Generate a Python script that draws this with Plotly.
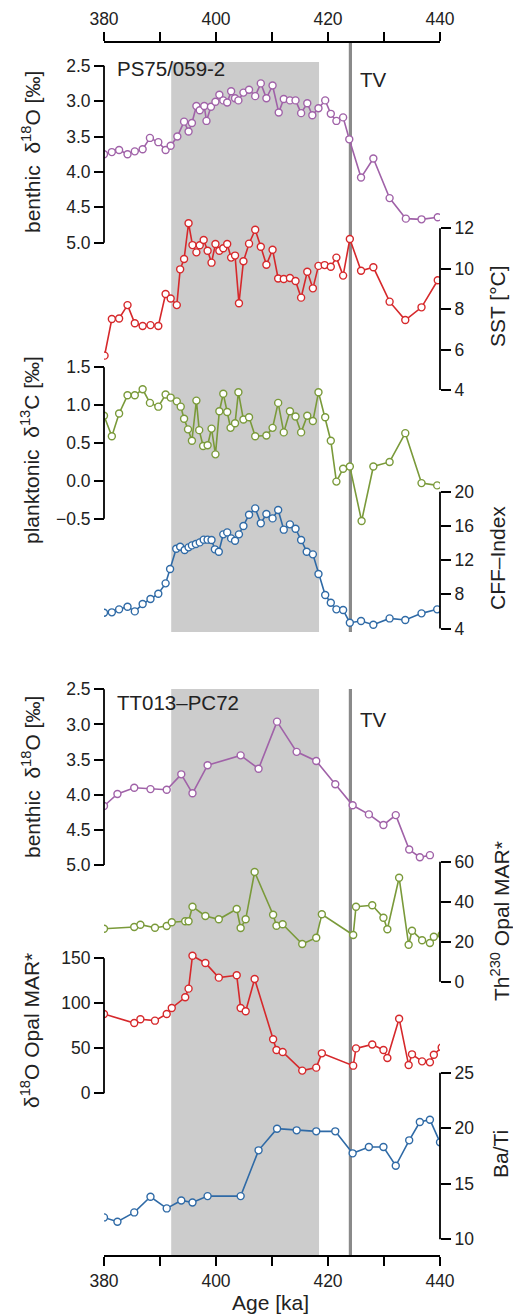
import plotly.graph_objects as go

W, H = 513, 1315
L, R = 104, 440  # pixel x of the plot area edges (380 ka and 440 ka)

# ---------------- PS75/059-2 ----------------
ps_d18o_age = [380.0, 381.4, 382.7, 384.2, 385.5, 386.9, 388.2, 389.7, 391.0, 391.9,
               393.1, 394.3, 395.1, 395.7, 396.5, 397.1, 397.9, 398.3, 399.1, 399.9,
               400.6, 401.3, 402.0, 402.7, 403.4, 404.0, 404.9, 405.9, 407.0, 408.0,
               409.0, 410.1, 411.2, 412.1, 413.2, 414.2, 415.2, 416.3, 417.2, 418.3,
               419.5, 420.5, 421.5, 422.7, 423.8, 425.9, 428.1, 431.0, 433.9, 436.7, 439.6]
ps_d18o = [3.75, 3.72, 3.69, 3.75, 3.71, 3.68, 3.52, 3.58, 3.69, 3.63,
           3.50, 3.29, 3.43, 3.31, 3.07, 3.13, 3.07, 3.28, 3.08, 3.01,
           2.91, 2.99, 3.02, 2.86, 2.96, 2.99, 2.88, 2.84, 2.93, 2.75,
           2.96, 2.78, 3.16, 2.97, 2.99, 2.99, 3.17, 3.03, 3.20, 3.10,
           2.99, 3.18, 3.28, 3.23, 3.54, 4.08, 3.81, 4.37, 4.66, 4.67, 4.64]

sst_age = [380.1, 381.4, 382.7, 384.2, 385.5, 386.9, 388.3, 389.7, 391.0, 391.9,
           393.0, 393.6, 394.3, 395.1, 395.8, 396.5, 397.1, 397.8, 398.5, 399.2,
           399.9, 400.6, 401.3, 402.0, 402.7, 403.4, 404.1, 404.9, 405.9, 407.0,
           408.0, 409.0, 410.1, 411.1, 412.1, 413.2, 414.2, 415.2, 416.3, 417.3,
           418.3, 419.4, 420.5, 421.5, 422.7, 423.9, 425.9, 428.1, 431.0, 433.8,
           436.7, 439.6]
sst = [5.7, 7.51, 7.54, 8.20, 7.30, 7.17, 7.21, 7.17, 8.75, 8.53,
       8.20, 9.97, 10.48, 12.25, 11.17, 10.81, 11.16, 11.42, 10.89, 10.30,
       11.22, 10.89, 11.01, 11.22, 10.55, 10.65, 8.29, 10.37, 11.24, 11.93,
       11.09, 10.20, 10.94, 9.52, 9.49, 9.54, 9.39, 8.57, 9.85, 9.03,
       10.14, 10.18, 10.10, 10.55, 9.66, 11.47, 9.90, 10.07, 8.37, 7.46,
       8.09, 9.43]

d13c_age = [380.0, 381.4, 382.7, 384.2, 385.5, 386.9, 388.2, 389.7, 391.0, 391.9,
            393.0, 393.7, 394.3, 395.0, 395.7, 396.5, 397.0, 397.7, 398.5, 399.2,
            399.9, 400.6, 401.3, 402.0, 402.6, 403.4, 404.0, 404.9, 405.9, 407.0,
            409.0, 410.1, 411.1, 412.1, 413.2, 414.2, 415.2, 416.3, 417.3, 418.3,
            419.5, 420.5, 421.5, 422.7, 423.9, 426.0, 428.1, 431.0, 433.8, 436.7, 439.5]
d13c = [0.86, 0.59, 0.89, 1.13, 1.13, 1.21, 1.03, 0.98, 1.14, 1.10,
        1.05, 0.98, 0.82, 0.68, 0.53, 1.06, 0.67, 0.46, 0.47, 0.69,
        0.35, 0.92, 1.15, 0.91, 0.70, 0.76, 1.17, 0.81, 0.84, 0.59,
        0.60, 0.70, 1.03, 0.64, 0.92, 0.85, 0.64, 0.86, 0.79, 1.17,
        0.84, 0.53, -0.01, 0.16, 0.19, -0.53, 0.19, 0.25, 0.63, -0.03, -0.06]

cff_age = [380.0, 381.4, 382.7, 384.2, 385.5, 386.9, 388.3, 389.7, 391.0, 391.8,
           392.9, 393.6, 394.4, 395.1, 395.7, 396.4, 397.1, 397.8, 398.5, 399.2,
           399.8, 400.5, 401.3, 402.0, 402.7, 403.4, 404.1, 404.9, 405.9, 407.0,
           408.0, 409.0, 410.1, 411.1, 412.1, 413.2, 414.2, 415.2, 416.2, 417.3,
           418.3, 419.5, 420.5, 421.5, 422.7, 423.9, 425.9, 428.1, 431.0, 433.8,
           436.7, 439.5]
cff = [5.85, 5.89, 6.24, 6.55, 6.00, 6.86, 7.45, 8.07, 9.28, 10.96,
       13.33, 13.57, 13.18, 13.49, 13.72, 13.88, 14.07, 14.39, 14.39, 14.35,
       13.26, 12.98, 15.01, 15.24, 14.54, 14.27, 15.01, 15.98, 17.31, 18.05,
       16.30, 17.39, 16.88, 17.86, 15.56, 16.18, 15.67, 14.35, 12.98, 12.67,
       10.37, 7.91, 7.02, 6.24, 6.16, 4.68, 4.87, 4.44, 5.18, 4.99,
       5.77, 6.24]

# ---------------- TT013-PC72 ----------------
tt_age = [380.0, 382.4, 385.4, 388.3, 391.2, 393.8, 395.8, 398.5, 404.4, 407.6,
          410.9, 414.4, 417.9, 421.3, 424.4, 427.3, 429.9, 432.1, 434.5, 436.4, 438.2]
tt_d18o = [4.16, 3.99, 3.90, 3.92, 3.93, 3.71, 3.98, 3.58, 3.44, 3.63,
           2.96, 3.39, 3.52, 3.85, 4.15, 4.28, 4.43, 4.29, 4.78, 4.89, 4.86]

bati_age = tt_age + [440.0]
bati = [11.97, 11.58, 12.42, 13.83, 12.78, 13.50, 13.32, 13.89, 13.89, 18.01,
        19.96, 19.81, 19.72, 19.72, 17.74, 18.31, 18.31, 16.62, 18.91, 20.56,
        20.77, 18.73]

opal_age = [380.0, 385.4, 386.5, 389.1, 391.2, 392.1, 394.5, 395.1, 395.8, 398.1,
            400.5, 403.7, 404.4, 405.3, 406.9, 410.2, 410.8, 411.9, 415.4, 417.9,
            418.9, 424.5, 425.0, 427.9, 429.9, 430.6, 432.7, 434.4, 435.0, 436.8,
            438.2, 438.9, 440.3]
th_opal = [26.5, 27.35, 28.5, 27.0, 27.85, 29.7, 30.2, 30.2, 37.5, 32.85,
           31.2, 36.35, 26.85, 31.2, 54.85, 33.5, 28.0, 28.7, 18.85, 22.0,
           33.7, 23.35, 37.5, 38.2, 32.0, 26.2, 52.0, 18.5, 25.5, 20.7,
           19.35, 22.5, 23.5]
d18o_opal = [88.1, 78.1, 82.2, 80.7, 88.1, 94.8, 106.7, 116.3, 152.9, 144.8,
             128.5, 131.1, 94.8, 91.1, 127.0, 60.0, 48.1, 45.9, 25.2, 28.5,
             44.4, 30.7, 49.9, 54.3, 48.1, 39.2, 82.9, 31.4, 43.3, 35.5,
             34.4, 42.9, 51.0]

# interglacial interval and Termination V
mis11 = [392.0, 418.4]
tv_age = 424.0

PURPLE = "#a062a8"
RED = "#d6282b"
GREEN = "#7a9a3a"
BLUE = "#2f6aa6"
FONT = "Liberation Sans, Arial, Helvetica, sans-serif"
TICK_SIZE = 17.5
TITLE_SIZE = 21


def yp(p):
    return 1 - p / H


def xp(p):
    return (p - L) / (R - L)


def yaxis(v_a, p_a, v_b, p_b, p_top, p_bot, vals, texts, side):
    k = (v_b - v_a) / (p_b - p_a)
    lo = v_a + (p_bot - p_a) * k
    hi = v_a + (p_top - p_a) * k
    return dict(domain=[yp(p_bot), yp(p_top)], range=[lo, hi], autorange=False,
                anchor="free", position=0 if side == "left" else 1, side=side,
                tickmode="array", tickvals=vals, ticktext=texts,
                ticks="outside", ticklen=10, tickwidth=1.7, tickcolor="black",
                showline=False, showgrid=False, zeroline=False,
                tickfont=dict(size=TICK_SIZE, color="#222", family=FONT))


axes = {
    "yaxis": yaxis(2.5, 65.7, 5.0, 242.7, 50, 260,
                   [2.5, 3.0, 3.5, 4.0, 4.5, 5.0], ["2.5", "3.0", "3.5", "4.0", "4.5", "5.0"], "left"),
    "yaxis2": yaxis(12, 228.3, 4, 390, 210, 400,
                    [4, 6, 8, 10, 12], ["4", "6", "8", "10", "12"], "right"),
    "yaxis3": yaxis(1.5, 367.3, -0.5, 518.7, 360, 535,
                    [-0.5, 0.0, 0.5, 1.0, 1.5], ["\u22120.5", "0.0", "0.5", "1.0", "1.5"], "left"),
    "yaxis4": yaxis(20, 491.7, 4, 628.5, 480, 640,
                    [4, 8, 12, 16, 20], ["4", "8", "12", "16", "20"], "right"),
    "yaxis5": yaxis(2.5, 689.3, 5.0, 865.0, 680, 885,
                    [2.5, 3.0, 3.5, 4.0, 4.5, 5.0], ["2.5", "3.0", "3.5", "4.0", "4.5", "5.0"], "left"),
    "yaxis6": yaxis(60, 861.7, 0, 981.7, 845, 990,
                    [0, 20, 40, 60], ["0", "20", "40", "60"], "right"),
    "yaxis7": yaxis(150, 958.3, 0, 1093.3, 945, 1100,
                    [0, 50, 100, 150], ["0", "50", "100", "150"], "left"),
    "yaxis8": yaxis(25, 1072.7, 10, 1239.3, 1060, 1252,
                    [10, 15, 20, 25], ["10", "15", "20", "25"], "right"),
}

fig = go.Figure()


def add(x, y, xa, ya, color):
    fig.add_trace(go.Scatter(
        x=x, y=y, xaxis=xa, yaxis=ya, mode="lines+markers", showlegend=False,
        line=dict(color=color, width=1.6),
        marker=dict(symbol="circle", size=7, color="white",
                    line=dict(color=color, width=1.4)),
        cliponaxis=True, hoverinfo="skip"))


add(ps_d18o_age, ps_d18o, "x", "y", PURPLE)
add(sst_age, sst, "x", "y2", RED)
add(d13c_age, d13c, "x", "y3", GREEN)
add(cff_age, cff, "x", "y4", BLUE)
add(tt_age, tt_d18o, "x2", "y5", PURPLE)
add(opal_age, th_opal, "x2", "y6", GREEN)
add(opal_age, d18o_opal, "x2", "y7", RED)
add(bati_age, bati, "x2", "y8", BLUE)

shapes = []
# interglacial shading and Termination V marker
for xref, top, bot, tv_top in (("x", 62, 632, 43), ("x2", 689, 1255, 689)):
    shapes.append(dict(type="rect", xref=xref, yref="paper", x0=mis11[0], x1=mis11[1],
                       y0=yp(bot), y1=yp(top), fillcolor="#cccccc",
                       line=dict(width=0), layer="below"))
    shapes.append(dict(type="line", xref=xref, yref="paper", x0=tv_age, x1=tv_age,
                       y0=yp(bot), y1=yp(tv_top), line=dict(color="#8a8a8a", width=3.2),
                       layer="below"))

# vertical axis spines limited to the tick span
spines = [("y", 0, 2.5, 5.0), ("y2", 1, 4, 12), ("y3", 0, -0.5, 1.5), ("y4", 1, 4, 20),
          ("y5", 0, 2.5, 5.0), ("y6", 1, 0, 60), ("y7", 0, 0, 150), ("y8", 1, 10, 25)]
for ya, xpos, a, b in spines:
    shapes.append(dict(type="line", xref="paper", yref=ya, x0=xpos, x1=xpos, y0=a, y1=b,
                       line=dict(color="black", width=1.8), layer="above"))

ann = []


def label(text, px, pyy, angle=0, anchor="center", size=TITLE_SIZE):
    ann.append(dict(text=text, xref="paper", yref="paper", x=xp(px), y=yp(pyy),
                    xanchor=anchor, yanchor="middle", textangle=angle, showarrow=False,
                    font=dict(size=size, color="#222", family=FONT)))


label("PS75/059-2", 115, 68, anchor="left", size=20.5)
label("TV", 358, 79, anchor="left", size=20.5)
label("TT013\u2013PC72", 115, 702, anchor="left", size=20.5)
label("TV", 358, 719, anchor="left", size=20.5)

label("benthic  \u03b4<sup>18</sup>O [\u2030]", 31, 152, angle=-90)
label("SST [\u00b0C]", 497, 306, angle=-90)
label("planktonic  \u03b4<sup>13</sup>C [\u2030]", 30, 450, angle=-90)
label("CFF\u2013Index", 497, 558, angle=-90)
label("benthic  \u03b4<sup>18</sup>O [\u2030]", 31, 777, angle=-90)
label("Th<sup>230</sup> Opal MAR*", 500, 921, angle=-90)
label("\u03b4<sup>18</sup>O Opal MAR*", 30, 1031, angle=-90)
label("Ba/Ti", 500, 1154, angle=-90)
label("Age [ka]", 270, 1302)

xcommon = dict(range=[380, 440], autorange=False, domain=[0, 1], anchor="free",
               tickmode="array", tickvals=[380, 400, 420, 440],
               ticktext=["380", "400", "420", "440"],
               ticks="outside", ticklen=9, tickwidth=1.7, tickcolor="black",
               minor=dict(tickmode="array", tickvals=[390, 410, 430], ticks="outside",
                          ticklen=9, tickwidth=1.7, tickcolor="black", showgrid=False),
               showline=True, linecolor="black", linewidth=1.8,
               showgrid=False, zeroline=False,
               tickfont=dict(size=TICK_SIZE, color="#222", family=FONT))

fig.update_layout(
    template="none",
    width=W, height=H,
    margin=dict(l=L, r=W - R, t=0, b=0, pad=0),
    paper_bgcolor="white", plot_bgcolor="rgba(0,0,0,0)",
    font=dict(family=FONT, color="#222"),
    showlegend=False,
    xaxis=dict(xcommon, side="top", position=yp(42)),
    xaxis2=dict(xcommon, side="bottom", position=yp(1256)),
    shapes=shapes,
    annotations=ann,
    **axes,
)

fig.write_html("out.html")
